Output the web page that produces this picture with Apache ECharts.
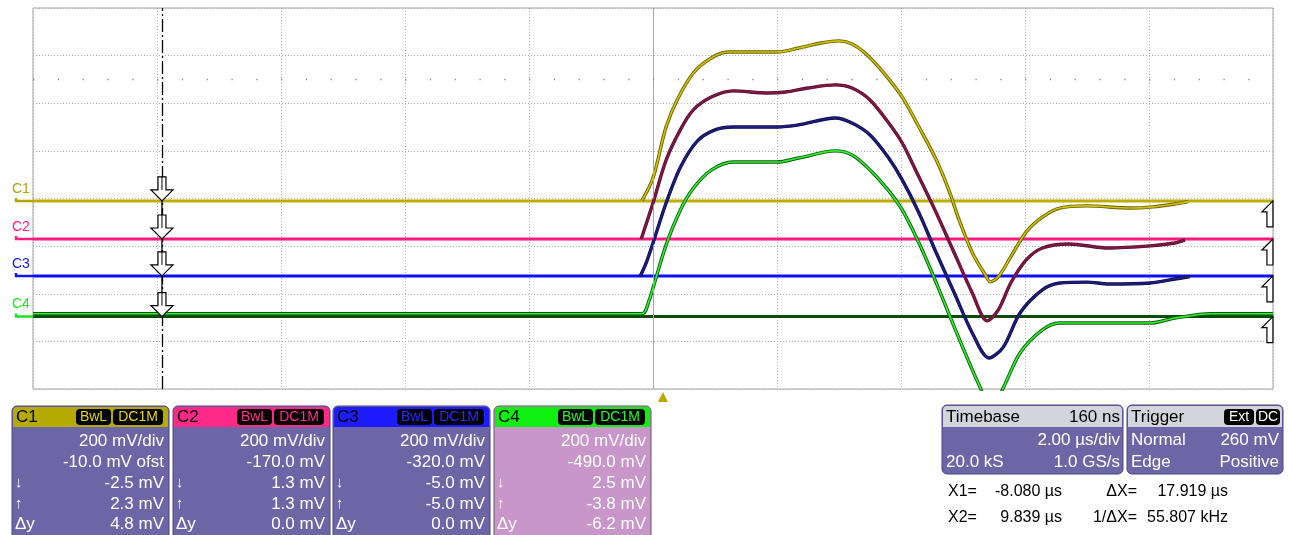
<!DOCTYPE html>
<html><head><meta charset="utf-8">
<script src="https://cdn.jsdelivr.net/npm/echarts@6/dist/echarts.min.js"></script>
<style>html,body{margin:0;padding:0;background:#fff}#c{width:1293px;height:535px}</style>
</head><body><div id="c"></div>
<script>
// ---------- data ----------
const channels = ['C1', 'C2', 'C3', 'C4'];
const voltsPerDiv = 200;               // mV/div
const usPerDiv = 2;                    // µs/div
const delayUs = 0.16;                  // timebase delay 160 ns
const groundOffsets = [-10, -170, -320, -490];   // mV (screen position of each ground)
const flatLevels = [0, 0, -5, -6];               // mV, quiet traces
const cursorX1 = -8.080, cursorX2 = 9.839;       // µs

// pulse traces [time µs, mV relative to channel ground]
const c1Pulse = [[-0.34,0],[-0.16,96],[0.05,310],[0.23,424],[0.49,537],[0.78,600],[1.05,625],[1.84,625],[2.19,642],[2.55,663],[2.84,672],[3.05,659],[3.26,621],[3.55,541],[3.86,436],[4.13,310],[4.41,172],[4.63,33],[4.76,-68],[4.99,-218],[5.20,-311],[5.28,-340],[5.41,-319],[5.61,-235],[5.86,-130],[6.12,-68],[6.40,-30],[6.84,-21],[7.55,-30],[7.90,-25],[8.26,-13],[8.47,-3]];
const c2Pulse = [[-0.35,0],[-0.16,151],[0.05,330],[0.28,458],[0.49,542],[0.78,596],[1.13,622],[1.69,613],[1.98,617],[2.34,634],[2.78,647],[3.05,634],[3.34,584],[3.63,491],[3.86,403],[4.13,260],[4.41,109],[4.70,-59],[4.99,-227],[5.23,-344],[5.41,-298],[5.61,-185],[5.86,-88],[6.12,-38],[6.55,-21],[7.19,-38],[7.86,-29],[8.26,-17],[8.42,-4]];
const c3Pulse = [[-0.37,-8],[-0.27,50],[-0.16,133],[0.05,300],[0.28,450],[0.55,560],[0.84,608],[1.13,620],[1.84,620],[2.19,629],[2.78,658],[3.05,637],[3.34,587],[3.63,494],[3.86,398],[4.13,259],[4.41,91],[4.70,-77],[4.99,-245],[5.26,-350],[5.49,-304],[5.76,-161],[6.12,-64],[6.40,-35],[6.84,-31],[7.19,-39],[7.86,-35],[8.26,-18],[8.50,-8]];
const c4Pulse = [[-10.16,6],[-0.34,6],[-0.22,64],[-0.16,114],[0.05,294],[0.28,441],[0.49,533],[0.78,609],[1.13,643],[1.84,643],[2.19,660],[2.78,690],[3.05,673],[3.34,610],[3.63,526],[3.86,442],[4.13,303],[4.41,135],[4.70,-50],[4.99,-230],[5.12,-305],[5.28,-400],[5.49,-305],[5.76,-159],[6.12,-62],[6.40,-33],[6.84,-33],[7.86,-33],[8.26,-12],[8.84,6],[9.84,6]];
const pulses = [c1Pulse, c2Pulse, c3Pulse, c4Pulse];

// panel texts
const panelRows = [
  ['200 mV/div', '-10.0 mV ofst', '-2.5 mV', '2.3 mV', '4.8 mV'],
  ['200 mV/div', '-170.0 mV', '1.3 mV', '1.3 mV', '0.0 mV'],
  ['200 mV/div', '-320.0 mV', '-5.0 mV', '-5.0 mV', '0.0 mV'],
  ['200 mV/div', '-490.0 mV', '2.5 mV', '-3.8 mV', '-6.2 mV']
];
const rowSymbols = ['', '', '↓', '↑', 'Δy'];
const badges = ['BwL', 'DC1M'];
const timebaseTexts = ['Timebase', '160 ns', '2.00 µs/div', '20.0 kS', '1.0 GS/s'];
const triggerTexts = ['Trigger', 'Ext', 'DC', 'Normal', '260 mV', 'Edge', 'Positive'];
const cursorTexts = [['X1=', '-8.080 µs', 'ΔX=', '17.919 µs'], ['X2=', '9.839 µs', '1/ΔX=', '55.807 kHz']];

// ---------- styles ----------
const flatColors = ['#bcae00', '#ff1a80', '#0c0cff', '#0e4a0e'];
const pulseOuter = ['#6a6000', '#5a0c30', '#0c0c50', '#0f5a0f'];
const pulseInner = ['#cfc200', '#7a1844', '#1c1c74', '#2ef02e'];
const labelColors = ['#b0a400', '#ff1a80', '#1414ff', '#22e022'];
const headerColors = ['#b4aa00', '#ff2a88', '#1c1cff', '#10f010'];
const bodyColors = ['#6c66a6', '#6c66a6', '#6c66a6', '#c896c8'];
const badgeText = ['#e6d800', '#ff3090', '#2a2aff', '#20ff20'];
const FONT = '"Liberation Sans", Arial, sans-serif';

const xMin = -5 * usPerDiv - delayUs, xMax = 5 * usPerDiv - delayUs;
const yMin = -4 * voltsPerDiv, yMax = 4 * voltsPerDiv;

const chart = echarts.init(document.getElementById('c'), null, {renderer: 'canvas'});

const series = [];
// quiet (flat) traces
channels.forEach((c, i) => {
  series.push({
    type: 'line', name: c + ' ref', showSymbol: false, silent: true, z: 3,
    data: [[xMin, flatLevels[i] + groundOffsets[i]], [xMax, flatLevels[i] + groundOffsets[i]]],
    lineStyle: {color: flatColors[i], width: 3}
  });
});
// pulse traces: outline + inner
channels.forEach((c, i) => {
  const d = pulses[i].map(p => [p[0], p[1] + groundOffsets[i]]);
  series.push({type: 'line', name: c + ' o', showSymbol: false, silent: true, smooth: 0.3, z: 4,
    data: d, lineStyle: {color: pulseOuter[i], width: 3.4}});
  series.push({type: 'line', name: c, showSymbol: false, silent: true, smooth: 0.3, z: 5,
    data: d, lineStyle: {color: pulseInner[i], width: i === 0 || i === 3 ? 1.6 : 2.2}});
});
// graticule extras: centre line, dotted sub-tick row, cursor X1
series.push({
  type: 'line', data: [], silent: true, z: 2,
  markLine: {
    silent: true, symbol: 'none', label: {show: false}, animation: false,
    data: [
      {xAxis: -delayUs, lineStyle: {color: '#a6a6a6', width: 1, type: 'solid'}},
      [{coord: [xMin, 2.5 * voltsPerDiv]}, {coord: [xMax, 2.5 * voltsPerDiv]}]
    ],
    lineStyle: {color: '#8c8c8c', width: 1.3, type: [1.3, 23.5]}
  }
});
series.push({
  type: 'line', data: [], silent: true, z: 6,
  markLine: {
    silent: true, symbol: 'none', label: {show: false}, animation: false,
    data: [{xAxis: cursorX1}],
    lineStyle: {color: '#000', width: 1.3, type: [13, 3, 2, 3]}
  }
});

chart.setOption({
  animation: false,
  backgroundColor: '#fff',
  grid: {left: 33, top: 8, width: 1240, height: 381, show: true, borderColor: '#a3a3a3', borderWidth: 1, backgroundColor: '#fff'},
  xAxis: {type: 'value', min: xMin, max: xMax, interval: usPerDiv,
    axisLine: {show: false}, axisTick: {show: false}, axisLabel: {show: false},
    splitLine: {show: true, lineStyle: {color: '#b0b0b0', width: 1, type: [1, 2]}}},
  yAxis: {type: 'value', min: yMin, max: yMax, interval: voltsPerDiv,
    axisLine: {show: false}, axisTick: {show: false}, axisLabel: {show: false},
    splitLine: {show: true, lineStyle: {color: '#b0b0b0', width: 1, type: [1, 2]}}},
  series
});

// ---------- overlay graphics positioned via the chart's scales ----------
const px = (t, v) => chart.convertToPixel({gridIndex: 0}, [t, v]);
const g = [];
const T = (x, y, text, o = {}) => ({type: 'text', x, y, z: 100, silent: true, style: {
  text, fill: o.fill || '#fff', font: (o.size || 17) + 'px ' + FONT,
  textAlign: o.align || 'left', align: o.align || 'left', textVerticalAlign: 'middle', verticalAlign: 'middle'}});
const R = (x, y, w, h, fill, r, stroke) => ({type: 'rect', z: 90, silent: true, shape: {x, y, width: w, height: h, r: r || 0},
  style: {fill, stroke: stroke || null, lineWidth: stroke ? 1 : 0}});

channels.forEach((c, i) => {
  const base = px(xMin, flatLevels[i] + groundOffsets[i]);
  const y = base[1];
  // channel label + ground marker
  g.push(T(12, y - 12, c, {fill: labelColors[i], size: 14}));
  g.push({type: 'polyline', z: 50, silent: true, shape: {points: [[16, y - 3], [16, y], [33, y]]},
    style: {stroke: labelColors[i], lineWidth: 2.5, fill: null}});
  // X1 cursor arrow (down)
  const a = px(cursorX1, flatLevels[i] + groundOffsets[i]);
  const ax = a[0], ay = a[1];
  g.push({type: 'polygon', z: 60, silent: true, shape: {points: [[ax - 4, ay - 24], [ax + 4, ay - 24], [ax + 4, ay - 11], [ax + 11, ay - 11], [ax, ay], [ax - 11, ay - 11], [ax - 4, ay - 11]]},
    style: {fill: '#fff', stroke: '#000', lineWidth: 1.2}});
  g.push({type: 'line', z: 61, silent: true, shape: {x1: ax, y1: ay - 24, x2: ax, y2: ay - 11}, style: {stroke: '#000', lineWidth: 1}});
  // X2 cursor half arrow (right edge)
  const b = px(cursorX2, flatLevels[i] + groundOffsets[i]);
  const bx = b[0], by = b[1];
  g.push({type: 'polygon', z: 60, silent: true, shape: {points: [[bx, by], [bx - 11, by + 11], [bx - 6, by + 11], [bx - 6, by + 26], [bx, by + 26]]},
    style: {fill: '#fff', stroke: '#000', lineWidth: 1.2}});
});
// solid section of X1 cursor between arrows
{
  const top = px(cursorX1, flatLevels[0] + groundOffsets[0]);
  const bot = px(cursorX1, flatLevels[3] + groundOffsets[3]);
  g.push({type: 'line', z: 59, silent: true, shape: {x1: top[0], y1: top[1], x2: bot[0], y2: bot[1]}, style: {stroke: '#000', lineWidth: 1.3}});
}
// trigger marker
{
  const tp = px(0, yMin);
  g.push({type: 'polygon', z: 60, silent: true, shape: {points: [[tp[0], tp[1] + 3], [tp[0] + 5, tp[1] + 13], [tp[0] - 5, tp[1] + 13]]},
    style: {fill: '#b8a800', stroke: null}});
}

// channel panels
const boxX = [12, 173, 333, 494];
const boxW = 157;
const rowY = [441, 462, 483, 504, 524];
channels.forEach((c, i) => {
  const x = boxX[i];
  g.push(R(x, 406, boxW, 140, bodyColors[i], 5, i === 3 ? '#5a5a5a' : '#4a4680'));
  g.push(R(x + 1, 407, boxW - 2, 20, headerColors[i], [4, 4, 0, 0]));
  g.push(T(x + 4, 417, c, {fill: '#000', size: 17}));
  // badges
  const bw = [35, 50];
  let bxp = x + boxW - 6 - bw[1] - 2 - bw[0];
  badges.forEach((bt, k) => {
    g.push(R(bxp, 409, bw[k], 16, '#000', 4));
    g.push(T(bxp + bw[k] / 2, 417.5, bt, {fill: badgeText[i], size: 14, align: 'center'}));
    bxp += bw[k] + 2;
  });
  panelRows[i].forEach((t, r) => {
    g.push(T(x + boxW - 5, rowY[r], t, {align: 'right'}));
    if (rowSymbols[r]) g.push(T(x + 3, rowY[r], rowSymbols[r], {size: rowSymbols[r] === 'Δy' ? 17 : 15}));
  });
});

// timebase box
g.push(R(942, 405, 181, 69, '#6c66a6', 5, '#4a4680'));
g.push(R(943, 406, 179, 21, '#d4d4dc', [4, 4, 0, 0]));
g.push(T(946, 417, timebaseTexts[0], {fill: '#000'}));
g.push(T(1120, 417, timebaseTexts[1], {fill: '#000', align: 'right'}));
g.push(T(1120, 440, timebaseTexts[2], {align: 'right'}));
g.push(T(946, 462, timebaseTexts[3]));
g.push(T(1120, 462, timebaseTexts[4], {align: 'right'}));
// trigger box
g.push(R(1127, 405, 156, 69, '#6c66a6', 5, '#4a4680'));
g.push(R(1128, 406, 154, 21, '#d4d4dc', [4, 4, 0, 0]));
g.push(T(1131, 417, triggerTexts[0], {fill: '#000'}));
g.push(R(1224, 409, 30, 16, '#000', 4));
g.push(T(1239, 417.5, triggerTexts[1], {fill: '#fff', size: 14, align: 'center'}));
g.push(R(1256, 409, 24, 16, '#000', 4));
g.push(T(1268, 417.5, triggerTexts[2], {fill: '#fff', size: 14, align: 'center'}));
g.push(T(1131, 440, triggerTexts[3]));
g.push(T(1279, 440, triggerTexts[4], {align: 'right'}));
g.push(T(1131, 462, triggerTexts[5]));
g.push(T(1279, 462, triggerTexts[6], {align: 'right'}));
// cursor readout
[492, 518].forEach((y, r) => {
  const row = cursorTexts[r];
  g.push(T(948, y, row[0], {fill: '#000', size: 16}));
  g.push(T(1062, y, row[1], {fill: '#000', size: 16, align: 'right'}));
  g.push(T(1137, y, row[2], {fill: '#000', size: 16, align: 'right'}));
  g.push(T(1228, y, row[3], {fill: '#000', size: 16, align: 'right'}));
});

chart.setOption({graphic: g});
</script></body></html>
